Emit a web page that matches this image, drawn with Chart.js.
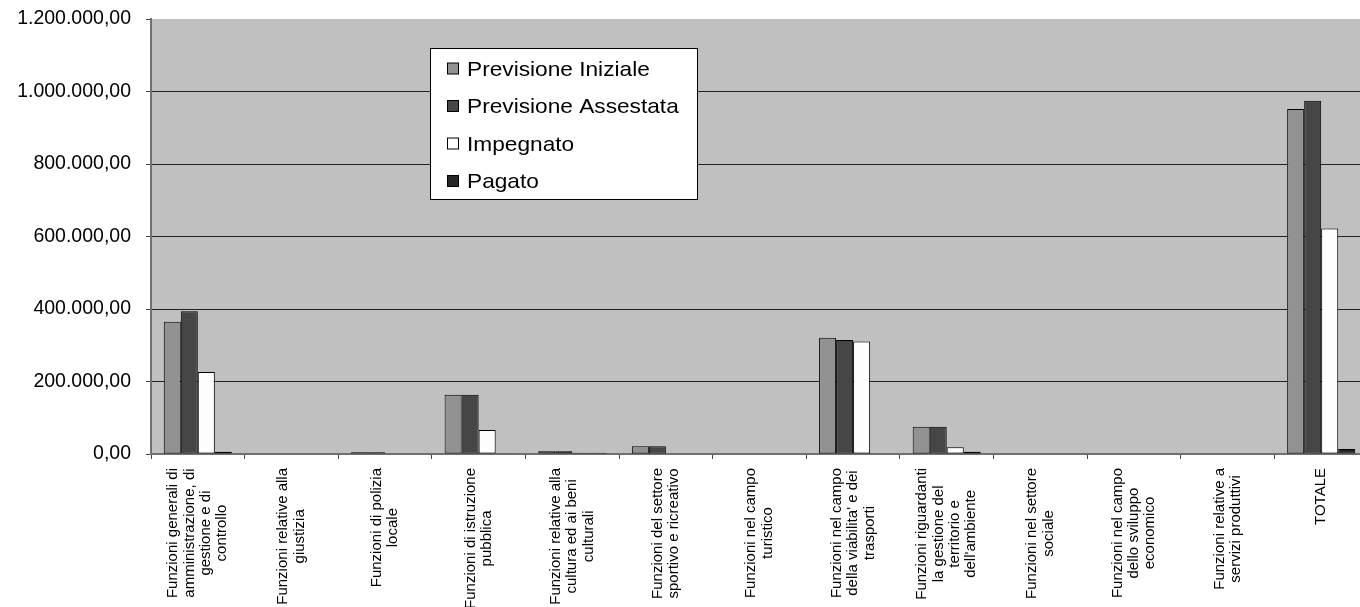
<!DOCTYPE html>
<html lang="it">
<head>
<meta charset="utf-8">
<title>Spese per funzione</title>
<script src="https://cdn.jsdelivr.net/npm/chart.js@4.4.1/dist/chart.umd.min.js"></script>
<style>
  html, body { margin: 0; padding: 0; background: #ffffff; overflow: hidden; }
  #wrap { position: relative; width: 1368px; height: 607px; }
</style>
</head>
<body>
<div id="wrap"><canvas id="chart"></canvas></div>
<script>
// Categorie (funzioni di spesa), già spezzate su più righe
const categories = [
  ["Funzioni generali di", "amministrazione, di", "gestione e di", "controllo"],
  ["Funzioni relative alla", "giustizia"],
  ["Funzioni di polizia", "locale"],
  ["Funzioni di istruzione", "pubblica"],
  ["Funzioni relative alla", "cultura ed ai beni", "culturali"],
  ["Funzioni del settore", "sportivo e ricreativo"],
  ["Funzioni nel campo", "turistico"],
  ["Funzioni nel campo", "della viabilita' e dei", "trasporti"],
  ["Funzioni riguardanti", "la gestione del", "territorio e", "dell'ambiente"],
  ["Funzioni nel settore", "sociale"],
  ["Funzioni nel campo", "dello sviluppo", "economico"],
  ["Funzioni relative a", "servizi produttivi"],
  ["TOTALE"]
];

// Importi per serie
const previsioneIniziale  = [365000, 0, 4700, 163200, 7500, 21300, 0, 320900, 75500, 0, 0, 0, 951600];
const previsioneAssestata = [393600, 0, 4700, 163200, 7500, 21300, 0, 314500, 75500, 0, 0, 0, 974600];
const impegnato           = [226000, 0, 0, 66400, 3600, 0, 0, 310600, 18500, 0, 0, 0, 622400];
const pagato              = [6400, 0, 0, 2000, 3600, 0, 0, 0, 6400, 0, 0, 0, 13800];

const seriesNames = ["Previsione Iniziale", "Previsione Assestata", "Impegnato", "Pagato"];

// Valori delle tacche dell'asse Y
const yTickValues = [0, 200000, 400000, 600000, 800000, 1000000, 1200000];

const FONT = '"Liberation Sans", Arial, Helvetica, sans-serif';

// Formato italiano: 1.200.000,00
function formatIt(v) {
  const fixed = Math.abs(v).toFixed(2);
  const [intPart, dec] = fixed.split('.');
  const grouped = intPart.replace(/\B(?=(\d{3})+(?!\d))/g, '.');
  return (v < 0 ? '-' : '') + grouped + ',' + dec;
}

// Sfondo grigio dell'area del grafico
const plotBackground = {
  id: 'plotBackground',
  beforeDraw(chart) {
    const { ctx, chartArea: a } = chart;
    ctx.save();
    ctx.fillStyle = '#c0c0c0';
    ctx.fillRect(a.left, a.top, a.right - a.left, a.bottom - a.top);
    ctx.restore();
  }
};

// Etichette dell'asse X ruotate, con righe centrate tra loro
const rotatedLabels = {
  id: 'rotatedLabels',
  afterDraw(chart) {
    const { ctx } = chart;
    const xs = chart.scales.x;
    const lh = 16.3;
    const top = xs.top + 14;
    ctx.save();
    ctx.font = '15px ' + FONT;
    ctx.fillStyle = '#000';
    ctx.textAlign = 'center';
    ctx.textBaseline = 'middle';
    categories.forEach((lines, i) => {
      const x = xs.getPixelForTick(i);
      const maxW = Math.max(...lines.map(l => ctx.measureText(l).width));
      ctx.save();
      ctx.translate(x, top + maxW / 2);
      ctx.rotate(-Math.PI / 2);
      lines.forEach((line, j) => {
        ctx.fillText(line, 0, (j - (lines.length - 1) / 2) * lh);
      });
      ctx.restore();
    });
    ctx.restore();
  }
};

// Legenda in riquadro bianco dentro l'area del grafico
const boxedLegend = {
  id: 'boxedLegend',
  afterDraw(chart) {
    const { ctx } = chart;
    const bx = 430.5, by = 48.5, bw = 267, bh = 151;
    ctx.save();
    ctx.fillStyle = '#ffffff';
    ctx.fillRect(bx, by, bw, bh);
    ctx.strokeStyle = '#000';
    ctx.lineWidth = 1;
    ctx.strokeRect(bx, by, bw, bh);
    const rows = [69, 106.5, 144, 181.5];
    chart.data.datasets.forEach((ds, i) => {
      const cy = rows[i];
      ctx.fillStyle = ds.backgroundColor;
      ctx.fillRect(447.5, cy - 6, 11, 11);
      ctx.strokeStyle = '#000';
      ctx.strokeRect(447.5, cy - 6, 11, 11);
      ctx.save();
      ctx.translate(467, cy);
      ctx.scale(1.08, 1);
      ctx.font = '21px ' + FONT;
      ctx.fillStyle = '#000';
      ctx.textAlign = 'left';
      ctx.textBaseline = 'middle';
      ctx.fillText(ds.label, 0, 1);
      ctx.restore();
    });
    ctx.restore();
  }
};

const barCommon = {
  borderColor: '#000000',
  borderWidth: 1,
  borderSkipped: false,
  categoryPercentage: 0.727,
  barPercentage: 1.0
};

new Chart(document.getElementById('chart'), {
  type: 'bar',
  data: {
    labels: categories.map(c => c.join(' ')),
    datasets: [
      Object.assign({ label: seriesNames[0], data: previsioneIniziale,  backgroundColor: '#929292' }, barCommon),
      Object.assign({ label: seriesNames[1], data: previsioneAssestata, backgroundColor: '#464646' }, barCommon),
      Object.assign({ label: seriesNames[2], data: impegnato,           backgroundColor: '#fdfdfd' }, barCommon),
      Object.assign({ label: seriesNames[3], data: pagato,              backgroundColor: '#262626' }, barCommon)
    ]
  },
  options: {
    responsive: true,
    maintainAspectRatio: false,
    animation: false,
    events: [],
    layout: { padding: { top: 19, right: 0, bottom: 0, left: 0 } },
    plugins: {
      legend: { display: false },
      tooltip: { enabled: false },
      title: { display: false }
    },
    scales: {
      x: {
        offset: true,
        ticks: { display: false },
        grid: {
          display: true,
          offset: true,
          drawOnChartArea: false,
          drawTicks: true,
          tickLength: 5,
          tickColor: '#444444'
        },
        border: { display: true, color: '#707070', width: 2 },
        afterFit(scale) {
          scale.height = 153;
          scale.paddingLeft = 0;
          scale.paddingRight = 0;
        }
      },
      y: {
        min: 0,
        max: 1200000,
        afterBuildTicks(scale) { scale.ticks = yTickValues.map(v => ({ value: v })); },
        ticks: {
          padding: 15,
          color: '#000000',
          font: { family: FONT, size: 19.5 },
          callback: v => formatIt(v)
        },
        grid: {
          color: c => (c.tick && (c.tick.value === 0 || c.tick.value === 1200000)) ? 'rgba(0,0,0,0)' : '#222222',
          lineWidth: 1,
          drawTicks: true,
          tickLength: 5,
          tickColor: '#444444'
        },
        border: { display: true, color: '#707070', width: 2 },
        afterFit(scale) {
          scale.width = 151;
          scale.paddingTop = 0;
          scale.paddingBottom = 0;
        }
      }
    }
  },
  plugins: [plotBackground, rotatedLabels, boxedLegend]
});
</script>
</body>
</html>
